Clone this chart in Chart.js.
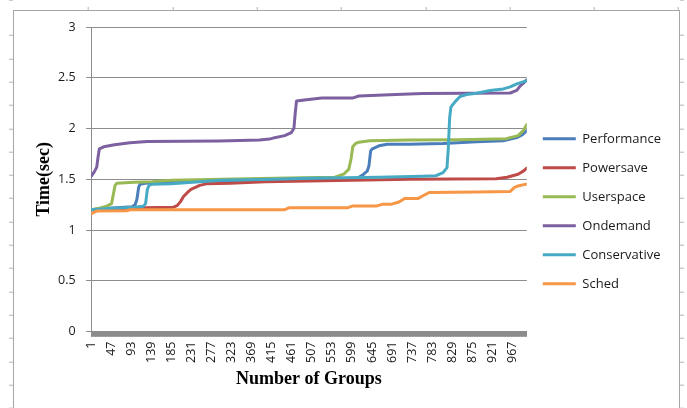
<!DOCTYPE html>
<html><head><meta charset="utf-8">
<script src="https://cdn.jsdelivr.net/npm/chart.js@4"></script>
<style>
html,body{margin:0;padding:0;background:#fff;overflow:hidden}
#wrap{position:relative;width:687px;height:408px;overflow:hidden}
#frame{position:absolute;left:13px;top:10px;width:665px;height:420px;border:1px solid #a6a6a6}
#tl{position:absolute;left:9px;top:0;width:4px;height:408px;background:repeating-linear-gradient(to bottom,transparent 0,transparent 22.3px,#b4b4b4 22.3px,#b4b4b4 23.3px);background-position:0 12.7px}
#tr{position:absolute;left:680px;top:0;width:4px;height:408px;background:repeating-linear-gradient(to bottom,transparent 0,transparent 22.3px,#b4b4b4 22.3px,#b4b4b4 23.3px);background-position:0 12.7px}
#tt{position:absolute;left:0;top:7px;width:687px;height:3px;background:repeating-linear-gradient(to right,transparent 0,transparent 83.3px,#b4b4b4 83.3px,#b4b4b4 84.3px);background-position:4.7px 0}
canvas{position:absolute;left:0;top:0}
</style></head>
<body><div id="wrap"><div id="tl"></div><div id="tr"></div><div id="tt"></div><div id="frame"></div>
<canvas id="c" width="687" height="408"></canvas></div>
<script>
// ---- data (group number, time in sec) ----
const seriesNames = ['Performance','Powersave','Userspace','Ondemand','Conservative','Sched'];
const seriesColors = ['#4A7EBB','#BE4B48','#98B954','#7D60A0','#46AAC5','#F79646'];

const performanceGroups = [1,20,60,95,102,106,110,113,125,160,250,350,450,550,600,615,626,634,638,642,646,661,680,730,808,885,946,977,990,1000];
const performanceTimes  = [1.20,1.21,1.22,1.23,1.25,1.30,1.42,1.45,1.46,1.47,1.48,1.49,1.495,1.50,1.505,1.52,1.55,1.58,1.63,1.78,1.80,1.83,1.845,1.845,1.853,1.87,1.88,1.91,1.94,1.98];

const powersaveGroups = [1,50,120,190,198,206,213,222,230,240,250,265,320,400,500,600,730,930,955,980,992,1000];
const powersaveTimes  = [1.20,1.21,1.22,1.225,1.24,1.28,1.33,1.37,1.40,1.42,1.44,1.455,1.46,1.475,1.483,1.49,1.50,1.505,1.52,1.55,1.58,1.61];

const userspaceGroups = [1,20,37,48,52,56,60,100,140,185,300,484,560,580,592,597,601,607,615,640,730,845,953,980,992,1000];
const userspaceTimes  = [1.20,1.215,1.235,1.26,1.35,1.44,1.46,1.47,1.475,1.49,1.50,1.515,1.52,1.55,1.60,1.70,1.82,1.85,1.865,1.88,1.886,1.89,1.90,1.93,1.98,2.04];

const ondemandGroups = [1,8,14,17,20,30,55,90,130,295,387,410,422,445,460,466,469,472,490,530,600,615,700,761,962,977,985,993,1000];
const ondemandTimes  = [1.53,1.57,1.62,1.72,1.80,1.82,1.84,1.86,1.873,1.876,1.886,1.896,1.91,1.93,1.96,2.00,2.15,2.27,2.28,2.30,2.30,2.32,2.335,2.345,2.35,2.375,2.42,2.45,2.48];

const conservativeGroups = [1,50,100,121,126,130,134,140,185,250,300,420,500,660,760,792,808,817,820,823,826,831,838,847,862,885,916,946,962,977,1000];
const conservativeTimes  = [1.20,1.215,1.225,1.235,1.26,1.40,1.44,1.45,1.455,1.475,1.49,1.50,1.51,1.52,1.53,1.535,1.566,1.615,1.80,2.10,2.21,2.24,2.275,2.315,2.335,2.347,2.374,2.39,2.41,2.44,2.47];

const schedGroups = [1,10,14,83,90,445,456,590,600,655,668,690,707,720,750,761,776,885,962,972,980,996,1000];
const schedTimes  = [1.16,1.18,1.187,1.19,1.20,1.20,1.22,1.22,1.236,1.236,1.253,1.255,1.276,1.31,1.31,1.335,1.37,1.375,1.38,1.42,1.434,1.45,1.45];

const xTickLabels = [1,47,93,139,185,231,277,323,369,415,461,507,553,599,645,691,737,783,829,875,921,967];
const yTickValues = [0,0.5,1,1.5,2,2.5,3];
const groupCount = 1000;

const allGroups = [performanceGroups,powersaveGroups,userspaceGroups,ondemandGroups,conservativeGroups,schedGroups];
const allTimes = [performanceTimes,powersaveTimes,userspaceTimes,ondemandTimes,conservativeTimes,schedTimes];

const datasets = seriesNames.map((name,i)=>({
  label:name,
  data: allGroups[i].map((g,k)=>({x:g,y:allTimes[i][k]})),
  borderColor: seriesColors[i],
  backgroundColor: seriesColors[i],
  borderWidth: 3,
  pointRadius: 0,
  tension: 0,
  borderJoinStyle:'round',
  borderCapStyle:'round',
  order: seriesNames.length - i
}));

const everyGroup = [];
for (let g = 1; g <= groupCount; g++) everyGroup.push(g);

const tickFont = {family:'"Open Sans", sans-serif', size:12.5};
const titleFont = {family:'"Liberation Serif", "Times New Roman", serif', size:18, weight:'bold'};

new Chart(document.getElementById('c'), {
  type:'line',
  data:{datasets},
  options:{
    responsive:false,
    animation:false,
    events:[],
    layout:{padding:{left:0,top:27,right:16,bottom:17.7}},
    plugins:{
      tooltip:{enabled:false},
      legend:{
        position:'right',
        title:{display:true, text:' ', padding:0, font:{size:4.5}},
        labels:{
          boxWidth:33, boxHeight:3, padding:16,
          color:'#1a1a1a',
          font:{family:'"Open Sans", sans-serif', size:13},
          sort:(a,b)=>a.datasetIndex-b.datasetIndex,
          generateLabels:(chart)=>{
            const items = Chart.defaults.plugins.legend.labels.generateLabels(chart);
            items.forEach(it=>{it.lineWidth=0; it.fillStyle=it.strokeStyle;});
            return items;
          }
        }
      }
    },
    scales:{
      x:{
        type:'linear', min:1, max:groupCount,
        afterBuildTicks:(s)=>{ s.ticks = everyGroup.map(v=>({value:v})); },
        ticks:{
          autoSkip:false, maxRotation:90, minRotation:90, padding:5,
          color:'#1a1a1a', font:tickFont,
          callback:(v)=> xTickLabels.includes(v) ? String(v) : ''
        },
        grid:{drawOnChartArea:false, color:'#8c8c8c', tickLength:5},
        border:{color:'#8c8c8c'},
        title:{display:true, text:'Number of Groups', color:'#000', padding:{top:0.7,bottom:0}, font:titleFont}
      },
      y:{
        min:0, max:3,
        afterBuildTicks:(s)=>{ s.ticks = yTickValues.map(v=>({value:v})); },
        ticks:{color:'#1a1a1a', padding:10.5, font:tickFont, callback:(v)=>String(v)},
        grid:{color:'#8c8c8c', tickLength:5},
        border:{color:'#8c8c8c'},
        title:{display:true, text:'Time(sec)', color:'#000', padding:{top:33.7,bottom:-7.8}, font:titleFont}
      }
    }
  }
});
</script></body></html>
